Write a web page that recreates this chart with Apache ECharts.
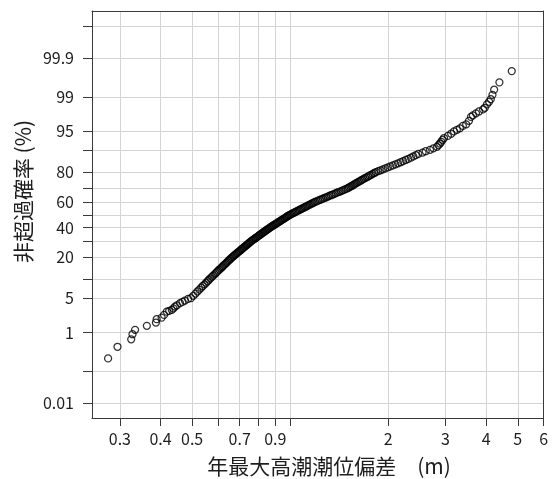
<!DOCTYPE html>
<html>
<head>
<meta charset="utf-8">
<style>
  html, body {margin: 0; padding: 0; background: #fff;}
  #chart {width: 552px; height: 479px;}
</style>
<script src="https://cdn.jsdelivr.net/npm/echarts@6/dist/echarts.min.js"></script>
</head>
<body>
<div id="chart"></div>
<script>
// 年最大高潮潮位偏差 (m) と 非超過確率 (%)
var lowTailM = [0.276, 0.295, 0.325, 0.328, 0.334, 0.363, 0.387, 0.389, 0.403, 0.410,
                0.418, 0.425, 0.433, 0.438, 0.443, 0.449, 0.459, 0.467, 0.475, 0.486];
var lowTailPct = [0.23, 0.46, 0.70, 0.92, 1.16, 1.42, 1.67, 1.97, 2.12, 2.41,
                  2.80, 2.89, 3.03, 3.24, 3.50, 3.69, 4.05, 4.28, 4.52, 4.85];

var bodyM = [
  0.496, 0.504, 0.512, 0.519, 0.526, 0.533, 0.539, 0.546, 0.552, 0.558,
  0.563, 0.569, 0.575, 0.580, 0.586, 0.591, 0.596, 0.601, 0.606, 0.612,
  0.617, 0.621, 0.626, 0.631, 0.636, 0.640, 0.645, 0.649, 0.654, 0.658,
  0.663, 0.668, 0.672, 0.677, 0.683, 0.687, 0.692, 0.697, 0.702, 0.707,
  0.711, 0.716, 0.721, 0.725, 0.730, 0.735, 0.739, 0.744, 0.749, 0.753,
  0.758, 0.763, 0.769, 0.774, 0.780, 0.785, 0.790, 0.796, 0.801, 0.806,
  0.812, 0.817, 0.823, 0.828, 0.834, 0.839, 0.844, 0.850, 0.856, 0.861,
  0.867, 0.873, 0.879, 0.885, 0.892, 0.899, 0.905, 0.911, 0.918, 0.924,
  0.931, 0.937, 0.944, 0.951, 0.958, 0.964, 0.971, 0.977, 0.984, 0.991,
  0.999, 1.007, 1.016, 1.025, 1.034, 1.043, 1.052, 1.062, 1.071, 1.081,
  1.090, 1.100, 1.110, 1.120, 1.129, 1.140, 1.149, 1.160, 1.171, 1.181,
  1.192, 1.205, 1.219, 1.233, 1.246, 1.261, 1.275, 1.290, 1.305, 1.319,
  1.335, 1.350, 1.367, 1.382, 1.399, 1.416, 1.433, 1.450, 1.468, 1.486,
  1.504, 1.517, 1.531, 1.544, 1.559, 1.572, 1.586, 1.601, 1.616, 1.631,
  1.647, 1.662, 1.680, 1.698, 1.716, 1.735, 1.753, 1.773, 1.793, 1.813,
  1.834, 1.864, 1.895, 1.927, 1.960, 1.995, 2.031, 2.067, 2.105, 2.144,
  2.184, 2.223, 2.264, 2.306, 2.349, 2.389, 2.432, 2.475, 2.550, 2.607,
  2.687, 2.752, 2.823, 2.853, 2.884, 2.910, 2.937, 2.967, 3.050, 3.121,
  3.184
];
var bodyPct = [
  5, 5.5, 6, 6.5, 7, 7.5, 8, 8.5, 9, 9.5,
  10, 10.5, 11, 11.5, 12, 12.5, 13, 13.5, 14, 14.5,
  15, 15.5, 16, 16.5, 17, 17.5, 18, 18.5, 19, 19.5,
  20, 20.5, 21, 21.5, 22, 22.5, 23, 23.5, 24, 24.5,
  25, 25.5, 26, 26.5, 27, 27.5, 28, 28.5, 29, 29.5,
  30, 30.5, 31, 31.5, 32, 32.5, 33, 33.5, 34, 34.5,
  35, 35.5, 36, 36.5, 37, 37.5, 38, 38.5, 39, 39.5,
  40, 40.5, 41, 41.5, 42, 42.5, 43, 43.5, 44, 44.5,
  45, 45.5, 46, 46.5, 47, 47.5, 48, 48.5, 49, 49.5,
  50, 50.5, 51, 51.5, 52, 52.5, 53, 53.5, 54, 54.5,
  55, 55.5, 56, 56.5, 57, 57.5, 58, 58.5, 59, 59.5,
  60, 60.5, 61, 61.5, 62, 62.5, 63, 63.5, 64, 64.5,
  65, 65.5, 66, 66.5, 67, 67.5, 68, 68.5, 69, 69.5,
  70, 70.5, 71, 71.5, 72, 72.5, 73, 73.5, 74, 74.5,
  75, 75.5, 76, 76.5, 77, 77.5, 78, 78.5, 79, 79.5,
  80, 80.5, 81, 81.5, 82, 82.5, 83, 83.5, 84, 84.5,
  85, 85.5, 86, 86.5, 87, 87.5, 88, 88.5, 89, 89.5,
  90, 90.5, 91, 91.5, 92, 92.5, 93, 93.5, 94, 94.5,
  95
];

var upTailM = [3.25, 3.32, 3.39, 3.47, 3.54, 3.59, 3.64, 3.72, 3.80, 3.91,
               3.96, 4.02, 4.08, 4.13, 4.18, 4.23, 4.39, 4.79];
var upTailPct = [95.31, 95.59, 96.03, 96.28, 96.81, 97.33, 97.51, 97.73, 97.92, 98.12,
                 98.26, 98.53, 98.71, 98.87, 99.10, 99.32, 99.55, 99.77];

// 目盛り
var tickPct = [0.01, 0.1, 1, 5, 10, 20, 30, 40, 50, 60, 70, 80, 90, 95, 99, 99.9, 99.99];
var labelPct = [0.01, 1, 5, 20, 40, 60, 80, 95, 99, 99.9];
var tickM = [0.3, 0.4, 0.5, 0.6, 0.7, 0.8, 0.9, 1, 2, 3, 4, 5, 6];
var labelM = [0.3, 0.4, 0.5, 0.7, 0.9, 2, 3, 4, 5, 6];

// 正規確率紙: 確率 -> 標準正規変量
function normInv(p) {
  var a = [-3.969683028665376e+01, 2.209460984245205e+02, -2.759285104469687e+02, 1.383577518672690e+02, -3.066479806614716e+01, 2.506628277459239e+00];
  var b = [-5.447609879822406e+01, 1.615858368580409e+02, -1.556989798598866e+02, 6.680131188771972e+01, -1.328068155288572e+01];
  var c = [-7.784894002430293e-03, -3.223964580411365e-01, -2.400758277161838e+00, -2.549732539343734e+00, 4.374664141464968e+00, 2.938163982698783e+00];
  var d = [7.784695709041462e-03, 3.224671290700398e-01, 2.445134137142996e+00, 3.754408661907416e+00];
  var pl = 0.02425, q, r;
  if (p < pl) {
    q = Math.sqrt(-2 * Math.log(p));
    return (((((c[0]*q+c[1])*q+c[2])*q+c[3])*q+c[4])*q+c[5]) / ((((d[0]*q+d[1])*q+d[2])*q+d[3])*q+1);
  }
  if (p > 1 - pl) {
    q = Math.sqrt(-2 * Math.log(1 - p));
    return -(((((c[0]*q+c[1])*q+c[2])*q+c[3])*q+c[4])*q+c[5]) / ((((d[0]*q+d[1])*q+d[2])*q+d[3])*q+1);
  }
  q = p - 0.5; r = q * q;
  return (((((a[0]*r+a[1])*r+a[2])*r+a[3])*r+a[4])*r+a[5])*q / (((((b[0]*r+b[1])*r+b[2])*r+b[3])*r+b[4])*r+1);
}
function pz(pct) { return normInv(pct / 100); }

var allM = lowTailM.concat(bodyM, upTailM);
var allPct = lowTailPct.concat(bodyPct, upTailPct);
var points = allM.map(function (m, i) { return [Math.log10(m), pz(allPct[i])]; });

var xMin = -0.6085, xMax = Math.log10(6);
var yMin = -4.01, yMax = 4.02;
var FONT = '"Noto Sans CJK JP", "Noto Sans", sans-serif';
var frameColor = '#3a3a3a', gridColor = '#d4d4d4', textColor = '#1e1e1e';

var chart = echarts.init(document.getElementById('chart'), null, {renderer: 'canvas'});
var option = {
  animation: false,
  backgroundColor: '#fff',
  grid: {left: 92, right: 8.4, top: 11, bottom: 61, outerBoundsMode: 'none'},
  xAxis: [{
    type: 'value', position: 'bottom', min: xMin, max: xMax, z: 5,
    axisLine: {show: true, onZero: false, lineStyle: {color: frameColor, width: 1}},
    axisTick: {show: true, length: 8, lineStyle: {color: frameColor}, customValues: tickM.map(Math.log10)},
    axisLabel: {
      show: true, margin: 13, fontSize: 16, fontFamily: FONT, color: textColor,
      customValues: labelM.map(Math.log10),
      formatter: function (v) { return String(+Math.pow(10, v).toFixed(1)); }
    },
    splitLine: {show: false}
  }, {
    type: 'value', position: 'top', min: xMin, max: xMax, z: 1,
    axisLine: {show: true, onZero: false, lineStyle: {color: frameColor, width: 1}},
    axisTick: {show: false, customValues: tickM.filter(function (m) { return m < 6; }).map(Math.log10)},
    axisLabel: {show: false},
    splitLine: {show: true, lineStyle: {color: gridColor, width: 1}}
  }],
  yAxis: [{
    type: 'value', position: 'left', min: yMin, max: yMax, z: 5,
    axisLine: {show: true, onZero: false, lineStyle: {color: frameColor, width: 1}},
    axisTick: {show: true, length: 9, lineStyle: {color: frameColor}, customValues: tickPct.map(pz)},
    axisLabel: {
      show: true, margin: 18, fontSize: 16, fontFamily: FONT, color: textColor,
      customValues: labelPct.map(pz),
      formatter: function (v) {
        var best = '', dist = 1e9;
        labelPct.forEach(function (p) {
          var dd = Math.abs(pz(p) - v);
          if (dd < dist) { dist = dd; best = String(p); }
        });
        return best;
      }
    },
    splitLine: {show: true, lineStyle: {color: gridColor, width: 1}}
  }, {
    type: 'value', position: 'right', min: yMin, max: yMax, z: 5,
    axisLine: {show: true, onZero: false, lineStyle: {color: frameColor, width: 1}},
    axisTick: {show: false},
    axisLabel: {show: false},
    splitLine: {show: false}
  }],
  graphic: [{
    type: 'text', x: 329, y: 466.5, silent: true,
    style: {text: '年最大高潮潮位偏差　(m)', font: '21px ' + FONT, fill: textColor, align: 'center', verticalAlign: 'middle'}
  }, {
    type: 'text', x: 23.5, y: 191.5, rotation: Math.PI / 2, silent: true,
    style: {text: '非超過確率 (%)', font: '21px ' + FONT, fill: textColor, align: 'center', verticalAlign: 'middle'}
  }],
  series: [{
    type: 'scatter',
    xAxisIndex: 0, yAxisIndex: 0,
    symbol: 'circle', symbolSize: 7,
    itemStyle: {color: 'rgba(0,0,0,0)', borderColor: '#000', borderWidth: 1.25},
    silent: true,
    z: 10,
    data: points
  }]
};
chart.setOption(option);
</script>
</body>
</html>
